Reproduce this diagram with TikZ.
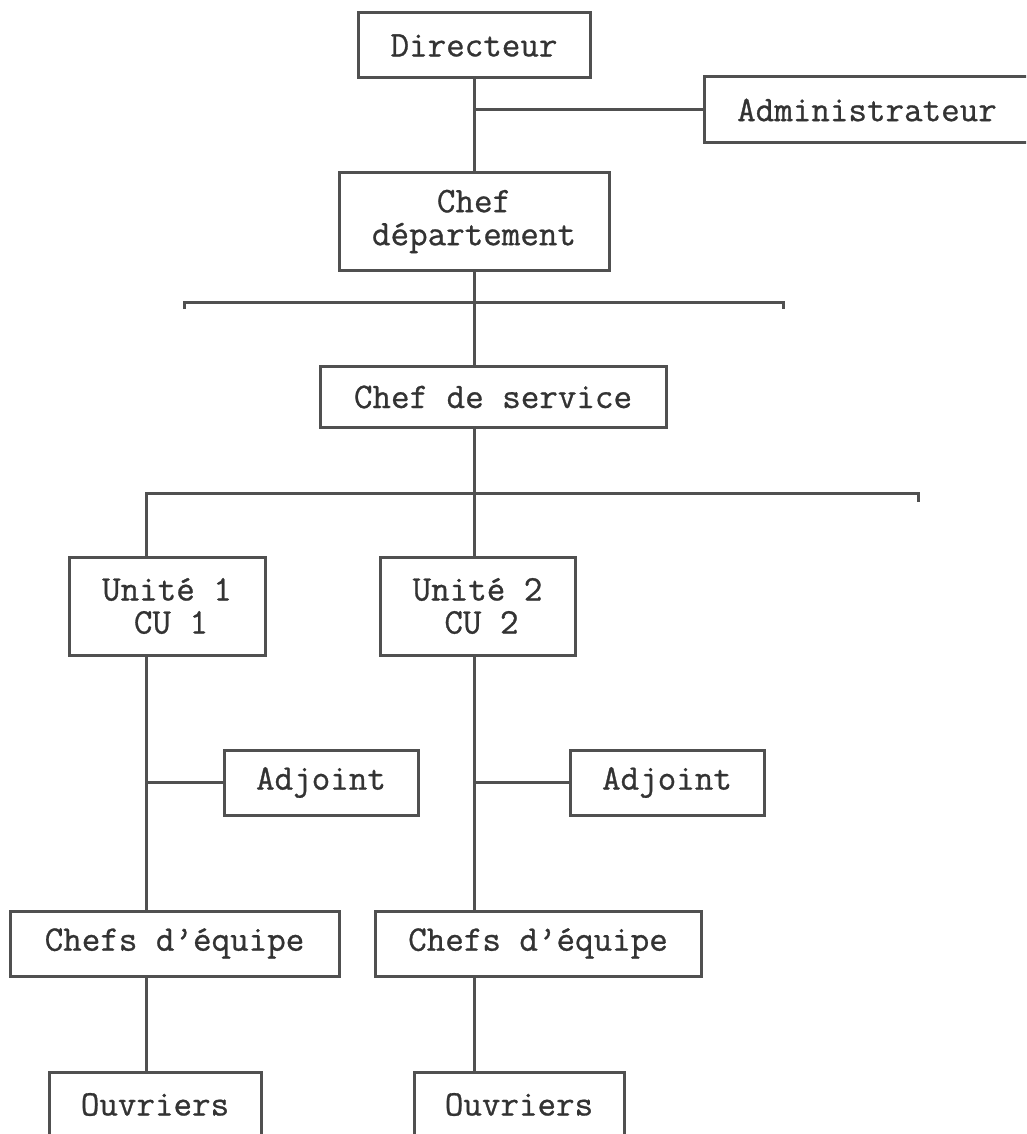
\documentclass[tikz,border=0pt]{standalone}
\usepackage{fontspec}
\newfontfamily\orgfont{Latin Modern Mono}[FakeBold=0.8]
\definecolor{inkgray}{HTML}{333333}
\definecolor{linegray}{HTML}{505050}
\tikzset{
    orgbox/.style={draw=linegray, line width=3pt, inner sep=0pt, align=center, text=inkgray,
        font=\orgfont\fontsize{36}{33}\selectfont},
    link/.style={draw=linegray, line width=3pt},
}
\begin{document}
\begin{tikzpicture}[x=1pt, y=-1pt]
    \clip (0,0) rectangle (1026,1134);
    % upper levels
    \node[orgbox, minimum width=232pt, minimum height=65pt] (dir) at (474,45.5) {Directeur};
    \node[orgbox, minimum width=326pt, minimum height=66pt] (admin) at (867,110) {Administrateur};
    \node[orgbox, minimum width=270pt, minimum height=97pt] (dept) at (474,221.5) {Chef\\département};
    \node[orgbox, minimum width=346pt, minimum height=61pt] (serv) at (493,397) {Chef de service};

    % units
    \node[orgbox, minimum width=196pt, minimum height=98pt] (u1) at (167,606) {Unité 1\\\hspace{8pt}CU 1};
    \node[orgbox, minimum width=195pt, minimum height=98pt] (u2) at (477.5,606) {Unité 2\\\hspace{8pt}CU 2};
    \node[orgbox, minimum width=194pt, minimum height=65pt] (adj1) at (321,782.5) {Adjoint};
    \node[orgbox, minimum width=194pt, minimum height=65pt] (adj2) at (667,782.5) {Adjoint};
    \node[orgbox, minimum width=329pt, minimum height=65pt] (chefs1) at (174.5,943.5) {Chefs d’équipe};
    \node[orgbox, minimum width=326pt, minimum height=65pt] (chefs2) at (538,943.5) {Chefs d’équipe};
    \node[orgbox, minimum width=212pt, minimum height=65pt] (ouv1) at (155,1104.5) {Ouvriers};
    \node[orgbox, minimum width=210pt, minimum height=65pt] (ouv2) at (519,1104.5) {Ouvriers};

    \coordinate (bar1l) at (184,302); \coordinate (bar1r) at (783,302);
    \coordinate (bar2l) at (146,493); \coordinate (bar2r) at (918,493);
    \coordinate (spine1) at (146,0); \coordinate (spine2) at (474,0);

    \draw[link] (dir.south) -- (dept.north);
    \draw[link] (dir.south |- admin.west) -- (admin.west);
    \draw[link] (dept.south) -- (serv.north -| spine2);
    \draw[link] (bar1l) ++(0,7) -- (bar1l) -- (bar1r) -- ++(0,7);
    \draw[link] (serv.south -| spine2) -- (u2.north -| spine2);
    \draw[link] (u1.north -| spine1) -- (bar2l) -- (bar2r) -- ++(0,9);

    % branches under each unit
    \foreach \u/\a/\c/\o/\s in {u1/adj1/chefs1/ouv1/spine1, u2/adj2/chefs2/ouv2/spine2} {
        \draw[link] (\u.south -| \s) -- (\c.north -| \s);
        \draw[link] (\a.west -| \s) -- (\a.west);
        \draw[link] (\c.south -| \s) -- (\o.north -| \s);
    }
\end{tikzpicture}
\end{document}
